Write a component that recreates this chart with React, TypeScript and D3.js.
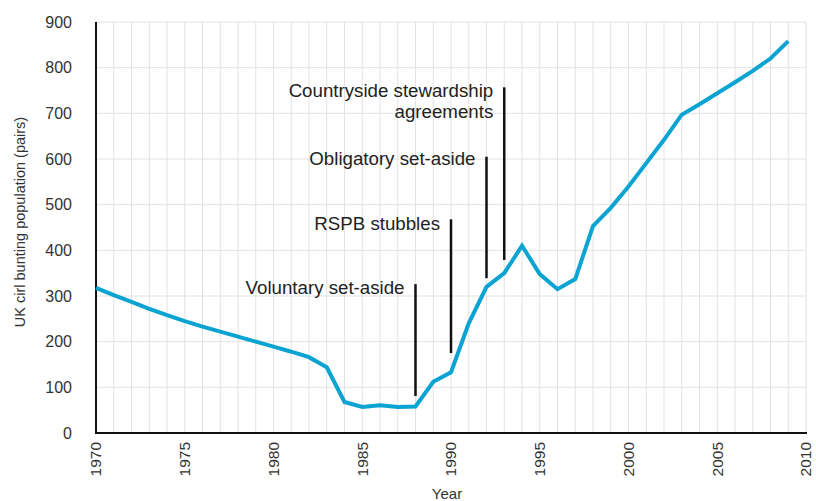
import { useEffect, useRef } from "react";
import * as d3 from "d3";

// cirl bunting pairs
const years = [
  1970, 1971, 1972, 1973, 1974, 1975, 1976, 1977, 1978, 1979, 1980, 1981, 1982,
  1983, 1984, 1985, 1986, 1987, 1988, 1989, 1990, 1991, 1992, 1993, 1994, 1995,
  1996, 1997, 1998, 1999, 2000, 2001, 2002, 2003, 2004, 2005, 2006, 2007, 2008, 2009,
];
const pairs = [
  318, 302, 287, 272, 258, 245, 233, 222, 211, 200, 189, 178, 166,
  144, 68, 57, 61, 57, 58, 112, 133, 240, 320, 350, 410, 348,
  315, 337, 453, 493, 540, 591, 642, 697, 720, 744, 768, 793, 820, 858,
];

// policy markers: year, line top/bottom (pairs), label lines
const eventYears = [1988, 1990, 1992, 1993];
const eventTop = [326, 468, 605, 757];
const eventBottom = [81, 175, 339, 379];
const eventLabels = [
  ["Voluntary set-aside"],
  ["RSPB stubbles"],
  ["Obligatory set-aside"],
  ["Countryside stewardship", "agreements"],
];
const eventLabelY = [318, 458, 600, 748];

const xTicks = [1970, 1975, 1980, 1985, 1990, 1995, 2000, 2005, 2010];
const yTicks = [0, 100, 200, 300, 400, 500, 600, 700, 800, 900];

const W = 816;
const H = 501;
const FONT = "'Liberation Sans', Arial, sans-serif";

const App = () => {
  const ref = useRef<SVGSVGElement>(null);

  useEffect(() => {
    if (!ref.current) return;
    const svg = d3.select(ref.current);
    svg.selectAll("*").remove();

    const x = d3.scaleLinear().domain([1970, 2010]).range([96, 806]);
    const y = d3.scaleLinear().domain([0, 900]).range([433, 22]);

    const g = svg.append("g");

    // grid
    g.selectAll("line.vg")
      .data(d3.range(1970, 2011))
      .enter().append("line")
      .attr("x1", d => x(d)).attr("x2", d => x(d))
      .attr("y1", y(900)).attr("y2", y(0))
      .attr("stroke", "#e2e2e2").attr("stroke-width", 1);

    g.selectAll("line.hg")
      .data(yTicks)
      .enter().append("line")
      .attr("x1", x(1970)).attr("x2", x(2010))
      .attr("y1", d => y(d)).attr("y2", d => y(d))
      .attr("stroke", "#e2e2e2").attr("stroke-width", 1);

    // axes
    g.append("line")
      .attr("x1", x(1970)).attr("x2", x(1970))
      .attr("y1", y(900)).attr("y2", y(0) + 1)
      .attr("stroke", "#111").attr("stroke-width", 2);
    g.append("line")
      .attr("x1", x(1970) - 1).attr("x2", x(2010) + 1)
      .attr("y1", y(0)).attr("y2", y(0))
      .attr("stroke", "#111").attr("stroke-width", 2);

    g.selectAll("text.yt")
      .data(yTicks)
      .enter().append("text")
      .attr("x", 72)
      .attr("y", d => y(d))
      .attr("dy", "0.35em")
      .attr("text-anchor", "end")
      .attr("font-family", FONT)
      .attr("font-size", 16)
      .attr("fill", "#333")
      .text(d => d);

    g.selectAll("text.xt")
      .data(xTicks)
      .enter().append("text")
      .attr("transform", d => `translate(${x(d)},${y(0) + 9}) rotate(-90)`)
      .attr("dy", "0.35em")
      .attr("text-anchor", "end")
      .attr("font-family", FONT)
      .attr("font-size", 15.5)
      .attr("fill", "#333")
      .text(d => d);

    // axis titles
    g.append("text")
      .attr("transform", `translate(25,222) rotate(-90)`)
      .attr("text-anchor", "middle")
      .attr("font-family", FONT)
      .attr("font-size", 14.5)
      .attr("fill", "#333")
      .text("UK cirl bunting population (pairs)");

    g.append("text")
      .attr("x", x(1990) - 4)
      .attr("y", 499)
      .attr("text-anchor", "middle")
      .attr("font-family", FONT)
      .attr("font-size", 15)
      .attr("fill", "#333")
      .text("Year");

    // event markers
    eventYears.forEach((yr, i) => {
      g.append("line")
        .attr("x1", x(yr)).attr("x2", x(yr))
        .attr("y1", y(eventTop[i])).attr("y2", y(eventBottom[i]))
        .attr("stroke", "#111").attr("stroke-width", 2.5);

      const t = g.append("text")
        .attr("text-anchor", "end")
        .attr("font-family", FONT)
        .attr("font-size", 18.7)
        .attr("fill", "#222");
      eventLabels[i].forEach((s, j) => {
        t.append("tspan")
          .attr("x", x(yr) - 11)
          .attr("y", y(eventLabelY[i]) + 6 + j * 21)
          .text(s);
      });
    });

    // population line
    const line = d3.line<number>()
      .x((_, i) => x(years[i]))
      .y(d => y(d));

    g.append("path")
      .datum(pairs)
      .attr("d", line)
      .attr("fill", "none")
      .attr("stroke", "#0aa3d2")
      .attr("stroke-width", 4)
      .attr("stroke-linejoin", "miter");
  }, []);

  return (
    <svg
      ref={ref}
      width={W}
      height={H}
      style={{ position: "absolute", left: 0, top: 0, background: "#fff" }}
    />
  );
};

export default App;
